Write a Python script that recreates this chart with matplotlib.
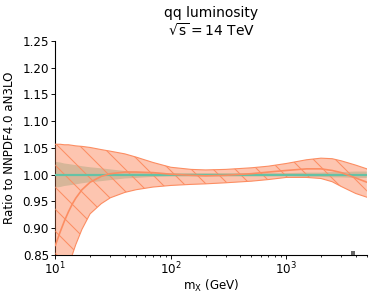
import matplotlib
matplotlib.use("Agg")
import matplotlib.pyplot as plt
from matplotlib.colors import to_rgba

# invariant mass grid (GeV)
mass = [10, 11, 12, 13, 14, 15, 17, 20, 25, 30, 40, 50, 70, 100, 150, 200,
        300, 500, 700, 1000, 1500, 2000, 2500, 3000, 4000, 5000]

# orange set (ratio to NNPDF4.0 aN3LO)
orange_cv = [0.868, 0.893, 0.914, 0.931, 0.945, 0.956, 0.972, 0.986, 0.997, 1.002,
             1.005, 1.005, 1.004, 1.001, 0.999, 0.998, 0.999, 1.002, 1.005, 1.008,
             1.011, 1.011, 1.008, 1.004, 0.994, 0.986]
orange_up = [1.057, 1.057, 1.056, 1.056, 1.055, 1.054, 1.053, 1.051, 1.047, 1.044,
             1.039, 1.033, 1.023, 1.014, 1.010, 1.009, 1.010, 1.013, 1.016, 1.021,
             1.028, 1.031, 1.030, 1.026, 1.018, 1.011]
orange_dn = [0.730, 0.772, 0.803, 0.830, 0.850, 0.869, 0.898, 0.927, 0.946, 0.957,
             0.967, 0.972, 0.977, 0.980, 0.982, 0.983, 0.985, 0.988, 0.991, 0.995,
             0.995, 0.993, 0.987, 0.978, 0.965, 0.958]

# green set (NNPDF4.0 aN3LO itself)
green_cv = [1.0] * 26
green_up = [1.024, 1.023, 1.021, 1.020, 1.019, 1.018, 1.016, 1.014, 1.012, 1.010,
            1.007, 1.006, 1.004, 1.003, 1.003, 1.003, 1.003, 1.003, 1.003, 1.003,
            1.004, 1.004, 1.005, 1.005, 1.006, 1.006]
green_dn = [0.976, 0.977, 0.979, 0.980, 0.981, 0.982, 0.984, 0.986, 0.988, 0.990,
            0.993, 0.994, 0.996, 0.997, 0.997, 0.997, 0.997, 0.997, 0.997, 0.997,
            0.996, 0.996, 0.995, 0.995, 0.994, 0.994]

marker_x = [3800]
marker_y = [0.853]

yticks = [0.85, 0.90, 0.95, 1.00, 1.05, 1.10, 1.15, 1.20, 1.25]

ORANGE = "#fc8d62"
GREEN = "#66c2a5"

DPI = 132
plt.rcParams["hatch.linewidth"] = 0.55
plt.rcParams["font.family"] = "DejaVu Sans"
plt.rcParams["mathtext.fontset"] = "dejavusans"

fig = plt.figure(figsize=(374 / DPI, 297 / DPI), dpi=DPI)
ax = fig.add_axes([0.148, 0.1414, 0.833, 0.7206])

ax.fill_between(mass, green_dn, green_up, facecolor=to_rgba(GREEN, 0.5),
                edgecolor="none", linewidth=0, zorder=2)
ax.fill_between(mass, orange_dn, orange_up, facecolor=to_rgba(ORANGE, 0.5),
                edgecolor=ORANGE, hatch="\\\\", linewidth=0, zorder=3)
ax.plot(mass, orange_up, color=ORANGE, lw=0.6, zorder=4)
ax.plot(mass, orange_dn, color=ORANGE, lw=0.6, zorder=4)
ax.plot(mass, green_cv, color=GREEN, lw=1.2, zorder=5)
ax.plot(mass, orange_cv, color=ORANGE, lw=0.9, zorder=6)
ax.plot(marker_x, marker_y, "s", color="#666666", ms=2.0, mew=0, zorder=7, clip_on=False)

ax.set_xscale("log")
ax.set_xlim(10, 5000)
ax.set_ylim(0.85, 1.25)
ax.set_yticks(yticks)
ax.set_yticklabels([f"{v:.2f}" for v in yticks])

for s in ["top", "right"]:
    ax.spines[s].set_visible(False)
for s in ["left", "bottom"]:
    ax.spines[s].set_linewidth(0.6)

ax.tick_params(axis="both", which="major", labelsize=6.5, length=2.0, width=0.5, pad=1.5)
ax.tick_params(axis="x", which="major", pad=1.0)
ax.tick_params(axis="both", which="minor", length=1.2, width=0.45)

ax.set_xlabel(r"m$_{\mathrm{X}}$ (GeV)", fontsize=6.5, labelpad=0.5)
ax.set_ylabel("Ratio to NNPDF4.0 aN3LO", fontsize=6.5, labelpad=3.5)
ax.set_title("qq luminosity\n" + r"$\sqrt{\mathrm{s}}=14$ TeV", fontsize=7.6,
             linespacing=1.1, pad=3)

fig.savefig("out.png", dpi=DPI)
